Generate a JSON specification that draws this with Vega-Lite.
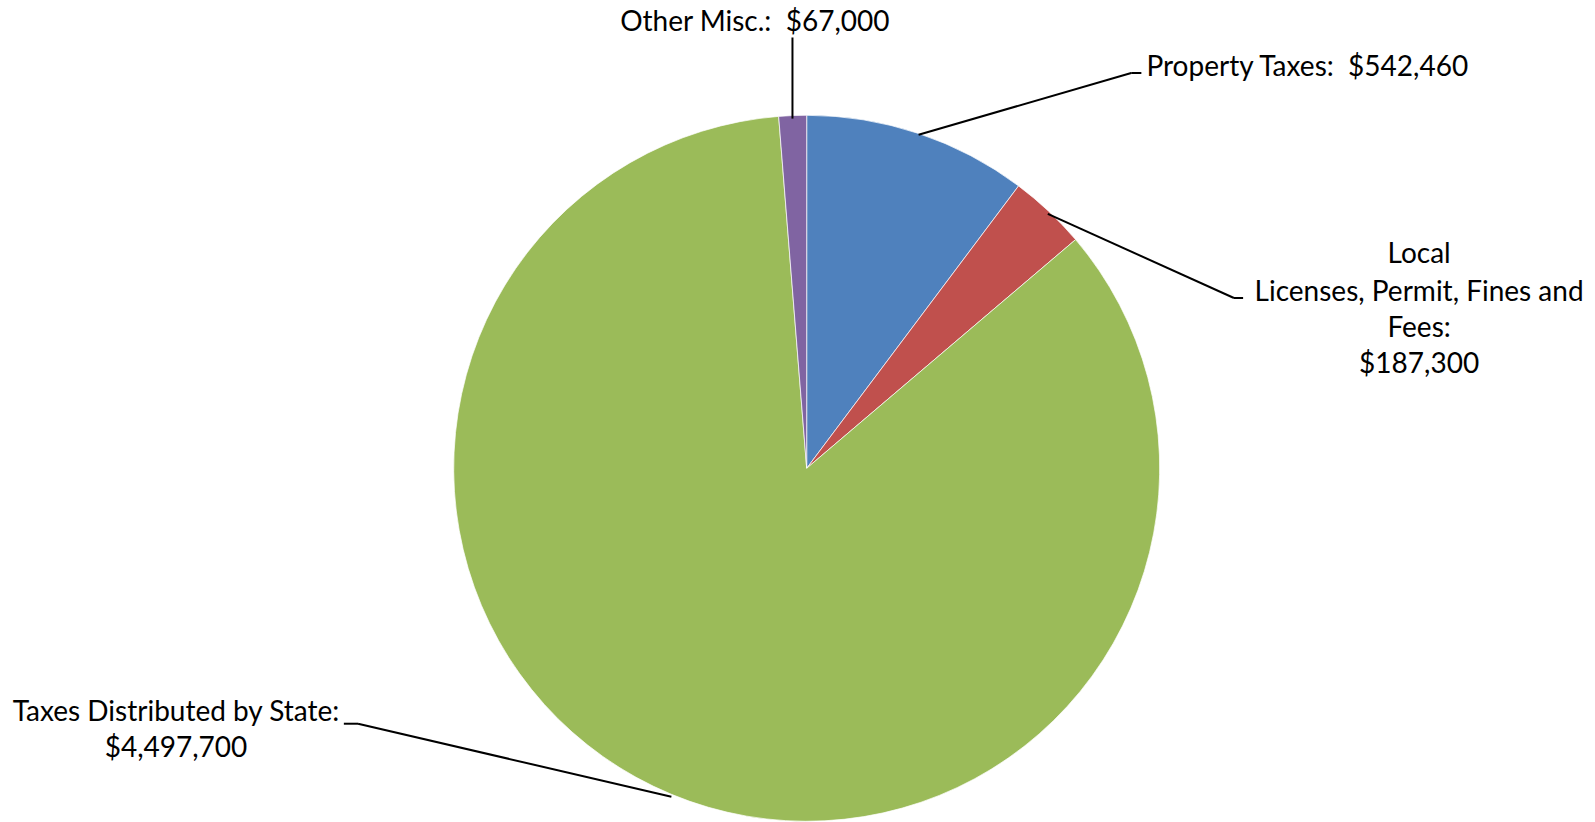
{
  "$schema": "https://vega.github.io/schema/vega-lite/v6.json",
  "width": 1595,
  "height": 822,
  "autosize": {"type": "fit", "contains": "padding"},
  "padding": 0,
  "background": "white",
  "config": {"view": {"stroke": null}},
  "datasets": {
    "slices": [
      {"idx": 1, "category": "Property Taxes", "amount": 542460},
      {"idx": 2, "category": "Local Licenses, Permit, Fines and Fees", "amount": 187300},
      {"idx": 3, "category": "Taxes Distributed by State", "amount": 4497700},
      {"idx": 4, "category": "Other Misc.", "amount": 67000}
    ],
    "leaders": [
      {"category": "Other Misc.", "x": -0.0403, "y": 0.9942, "x2": -0.0403, "y2": 1.2248},
      {"category": "Property Taxes", "x": 0.317, "y": 0.9481, "x2": 0.9193, "y2": 1.1239},
      {"category": "Property Taxes", "x": 0.9193, "y": 1.1239, "x2": 0.9481, "y2": 1.1239},
      {"category": "Local", "x": 0.683, "y": 0.7233, "x2": 1.2104, "y2": 0.4841},
      {"category": "Local", "x": 1.2104, "y": 0.4841, "x2": 1.2363, "y2": 0.4841},
      {"category": "Taxes Distributed by State", "x": -0.3833, "y": -0.934, "x2": -1.2709, "y2": -0.7263},
      {"category": "Taxes Distributed by State", "x": -1.2709, "y": -0.7263, "x2": -1.3112, "y2": -0.7263}
    ],
    "labels": [
      {"text": "Other Misc.:\u00a0 $67,000", "x": -0.147, "y": 1.2651, "anchor": "center"},
      {"text": "Property Taxes:\u00a0 $542,460", "x": 0.9625, "y": 1.1383, "anchor": "left"},
      {"text": "Local", "x": 1.7349, "y": 0.6051, "anchor": "center"},
      {"text": "Licenses, Permit, Fines and", "x": 1.7349, "y": 0.4985, "anchor": "center"},
      {"text": "Fees:", "x": 1.7349, "y": 0.3948, "anchor": "center"},
      {"text": "$187,300", "x": 1.7349, "y": 0.2939, "anchor": "center"},
      {"text": "Taxes Distributed by State:", "x": -1.7867, "y": -0.6961, "anchor": "center"},
      {"text": "$4,497,700", "x": -1.7867, "y": -0.797, "anchor": "center"}
    ]
  },
  "layer": [
    {
      "data": {"name": "slices"},
      "mark": {"type": "arc", "outerRadius": 353, "stroke": "#ffffff", "strokeWidth": 1, "strokeOpacity": 0.7},
      "encoding": {
        "x": {"datum": 0, "type": "quantitative", "scale": {"domain": [-2.2853, 2.2332], "nice": false, "zero": false}, "axis": null},
        "y": {"datum": 0, "type": "quantitative", "scale": {"domain": [-0.9972, 1.3314], "nice": false, "zero": false}, "axis": null},
        "theta": {"field": "amount", "type": "quantitative", "stack": true},
        "order": {"field": "idx", "type": "quantitative"},
        "color": {
          "field": "category",
          "type": "nominal",
          "scale": {
            "domain": ["Property Taxes", "Local Licenses, Permit, Fines and Fees", "Taxes Distributed by State", "Other Misc."],
            "range": ["#4F81BD", "#C0504D", "#9BBB59", "#8064A2"]
          },
          "legend": null
        }
      }
    },
    {
      "data": {"name": "leaders"},
      "mark": {"type": "rule", "color": "#000000", "strokeWidth": 2},
      "encoding": {
        "x": {"field": "x", "type": "quantitative"},
        "y": {"field": "y", "type": "quantitative"},
        "x2": {"field": "x2"},
        "y2": {"field": "y2"}
      }
    },
    {
      "data": {"name": "labels"},
      "transform": [{"filter": "datum.anchor === 'center'"}],
      "mark": {"type": "text", "align": "center", "baseline": "middle", "font": "Lato", "fontSize": 28, "color": "#000000"},
      "encoding": {
        "x": {"field": "x", "type": "quantitative"},
        "y": {"field": "y", "type": "quantitative"},
        "text": {"field": "text"}
      }
    },
    {
      "data": {"name": "labels"},
      "transform": [{"filter": "datum.anchor === 'left'"}],
      "mark": {"type": "text", "align": "left", "baseline": "middle", "font": "Lato", "fontSize": 28, "color": "#000000"},
      "encoding": {
        "x": {"field": "x", "type": "quantitative"},
        "y": {"field": "y", "type": "quantitative"},
        "text": {"field": "text"}
      }
    }
  ]
}
